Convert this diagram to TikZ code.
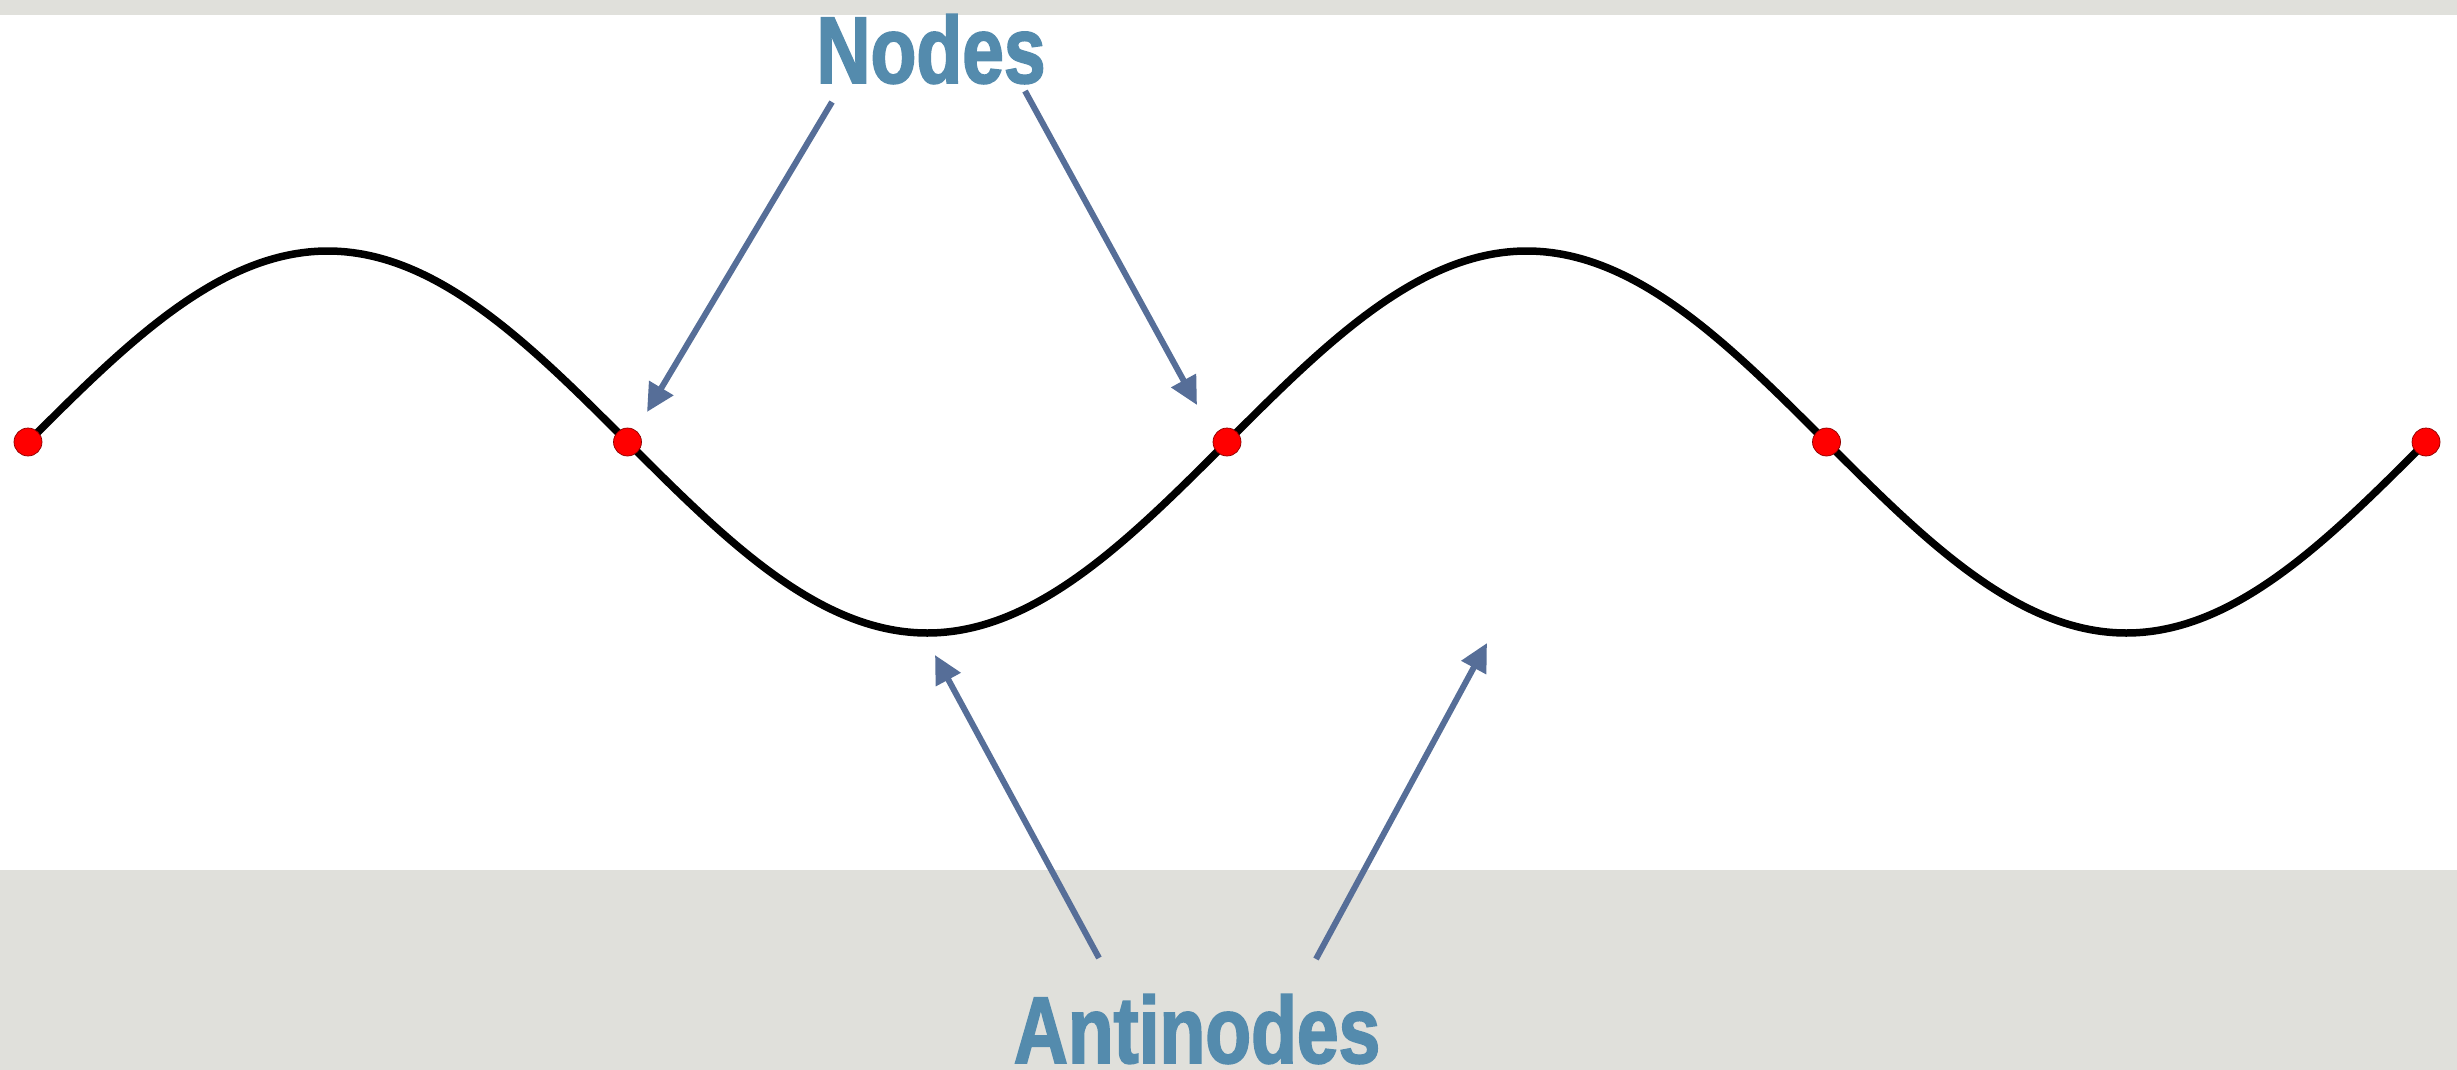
\documentclass[tikz,border=0pt]{standalone}
\usepackage{fontspec}
\setmainfont{Liberation Sans}
\newfontfamily\labelfont{Liberation Sans}[UprightFont={* Bold}, FakeStretch=0.79, FakeBold=1.8]
\usetikzlibrary{arrows.meta}

\definecolor{paper}{RGB}{224,224,219}
\definecolor{arrowblue}{RGB}{86,110,152}
\definecolor{textblue}{RGB}{84,139,173}

\tikzset{
  dot/.style={circle, fill=red, draw=red!55!black, line width=0.2pt, inner sep=0pt, minimum size=2.8mm},
  pointer/.style={-{Triangle[length=2.8mm,width=2.7mm]}, line width=0.6mm, draw=arrowblue},
  tag/.style={text=textblue, inner sep=0pt, anchor=base, font=\labelfont\fontsize{27}{27}\selectfont}
}

\begin{document}
\begin{tikzpicture}[x=0.1mm,y=-0.1mm]
\useasboundingbox (0,0) rectangle (2457,1070);
% paper bands
\fill[paper] (0,0) rectangle (2457,15);
\fill[paper] (0,870) rectangle (2457,1070);
% the wave
\draw[line width=0.75mm, line cap=round] (28,442) sin (327.75,251) cos (627.5,442) sin (927.25,633) cos (1227,442)
  sin (1526.75,251) cos (1826.5,442) sin (2126.25,633) cos (2426,442);
\foreach \x/\name in {28/n1, 627.5/n2, 1227/n3, 1826.5/n4, 2426/n5}
  \node[dot] (\name) at (\x,442) {};
% labels
\node[tag] (nodes) at (931,83) {Nodes};
\node[tag] (antinodes) at (1197,1063) {Antinodes};
\coordinate (a1) at (832,102);
\coordinate (t1) at (647,412);
\coordinate (a2) at (1025,91);
\coordinate (t2) at (1197,405);
\coordinate (a3) at (1099,958);
\coordinate (t3) at (935,655);
\coordinate (a4) at (1316,959);
\coordinate (t4) at (1487,643);
\draw[pointer] (a1) -- (t1);
\draw[pointer] (a2) -- (t2);
\draw[pointer] (a3) -- (t3);
\draw[pointer] (a4) -- (t4);
\end{tikzpicture}
\end{document}
